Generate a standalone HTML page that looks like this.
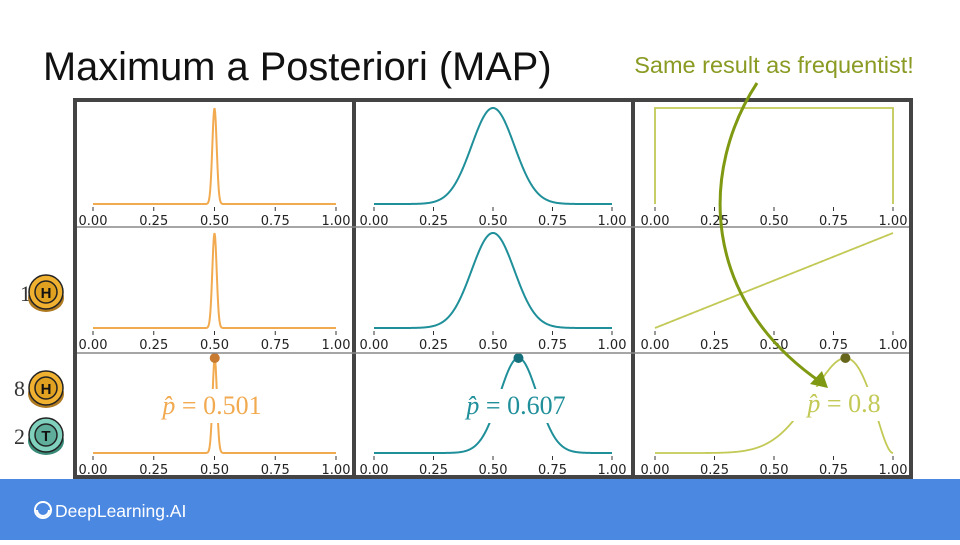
<!DOCTYPE html>
<html><head><meta charset="utf-8"><style>
body{margin:0;width:960px;height:540px;overflow:hidden;background:#fff;font-family:"Liberation Sans",sans-serif}
</style></head><body>
<svg width="960" height="540" viewBox="0 0 960 540" xmlns="http://www.w3.org/2000/svg">
<rect x="0" y="0" width="960" height="540" fill="#fff"/>
<text x="43" y="80" font-size="39.8" fill="#111" font-family="Liberation Sans, sans-serif">Maximum a Posteriori (MAP)</text>
<text x="774" y="73" font-size="23.5" fill="#8a9a22" text-anchor="middle" font-family="Liberation Sans, sans-serif">Same result as frequentist!</text>
<g id="panels"></g>
<rect x="75" y="100" width="836" height="377" fill="none" stroke="#444" stroke-width="4"/>
<line x1="354" y1="100" x2="354" y2="477" stroke="#444" stroke-width="4"/>
<line x1="633" y1="100" x2="633" y2="477" stroke="#444" stroke-width="4"/>
<line x1="77" y1="227" x2="909" y2="227" stroke="#888" stroke-width="1.5"/>
<line x1="77" y1="353" x2="909" y2="353" stroke="#888" stroke-width="1.5"/>
<path d="M757,83 C700,170 700,300 822,383" fill="none" stroke="#7f9a12" stroke-width="3"/>
<polygon points="828,388 810,384 822,371" fill="#7f9a12"/>
<g>
<text x="20" y="301" font-size="22" fill="#333" font-family="Liberation Serif, serif">1</text>
<text x="14" y="396" font-size="22" fill="#333" font-family="Liberation Serif, serif">8</text>
<text x="14" y="444" font-size="22" fill="#333" font-family="Liberation Serif, serif">2</text>
<g><ellipse cx="46" cy="298" rx="18" ry="14" fill="#b07a20"/><circle cx="46" cy="292" r="17" fill="#f0b030" stroke="#222" stroke-width="1.5"/><circle cx="46" cy="292" r="11" fill="#e0a020" stroke="#222" stroke-width="1.5"/><text x="46" y="298" font-size="15" font-weight="bold" text-anchor="middle" fill="#111">H</text></g>
<g><ellipse cx="46" cy="394" rx="18" ry="14" fill="#b07a20"/><circle cx="46" cy="388" r="17" fill="#f0b030" stroke="#222" stroke-width="1.5"/><circle cx="46" cy="388" r="11" fill="#e0a020" stroke="#222" stroke-width="1.5"/><text x="46" y="394" font-size="15" font-weight="bold" text-anchor="middle" fill="#111">H</text></g>
<g><ellipse cx="46" cy="441" rx="18" ry="14" fill="#3a8a78"/><circle cx="46" cy="435" r="17" fill="#7fd0bc" stroke="#222" stroke-width="1.5"/><circle cx="46" cy="435" r="11" fill="#5fae9c" stroke="#222" stroke-width="1.5"/><text x="46" y="441" font-size="15" font-weight="bold" text-anchor="middle" fill="#111">T</text></g>
</g>
<rect x="0" y="479" width="960" height="61" fill="#4b88e2"/>
<g><circle cx="43" cy="510" r="8" fill="none" stroke="#fff" stroke-width="2"/><path d="M37,510 a6,6 0 0 0 12,0" fill="none" stroke="#fff" stroke-width="2"/>
<text x="55" y="517" font-size="17.5" fill="#fff" font-family="Liberation Sans, sans-serif">DeepLearning.AI</text></g>
</svg>
<script>
const tickLabels = ["0.00","0.25","0.50","0.75","1.00"];
const tickValues = [0,0.25,0.5,0.75,1];
const colColors = ["#f2aa50","#1f8f9a","#c2c955"];
const markerColors = ["#c87a30","#16707c","#66661c"];
const mapValues = [0.501, 0.607, 0.8];
const mapLabels = ["0.501","0.607","0.8"];
// gaussian params per column (row1 prior, row2 after 1H, row3 after 8H2T)
const colMeans = [[0.5,0.5,0.501],[0.5,0.5,0.607]];
const colSds = [[0.009,0.009,0.009],[0.09,0.09,0.08]];
// beta exponents for column 3 (a-1, b-1) per row
const betaA = [0,1,8];
const betaB = [0,0,2];

const NS="http://www.w3.org/2000/svg";
const g=document.getElementById('panels');
const colX=[[93,336],[374,612],[655,893]];
const rowBase=[204,328,453];
const rowTop=[108,233,358];
function el(t,a,p){const e=document.createElementNS(NS,t);for(const k in a)e.setAttribute(k,a[k]);(p||g).appendChild(e);return e;}
function density(c,r,x){
  if(c<2){const m=colMeans[c][r],s=colSds[c][r];return Math.exp(-0.5*((x-m)/s)**2);}
  const a=betaA[r],b=betaB[r];const m=(a+b)?a/(a+b):0.5;
  const f=v=>Math.pow(v,a)*Math.pow(1-v,b);return f(x)/f(m);
}
for(let c=0;c<3;c++)for(let r=0;r<3;r++){
  const [x0,x1]=colX[c];const sx=v=>x0+v*(x1-x0);
  const sy=v=>rowBase[r]-v*(rowBase[r]-rowTop[r]);
  const pg=el('g',{});
  
  
  tickValues.forEach((t,i)=>{
    const tk=el('line',{x1:sx(t),x2:sx(t),y1:rowBase[r]+3,y2:rowBase[r]+7,stroke:'#333','stroke-width':1},pg);
    
    
    const tl=el('text',{x:sx(t),y:rowBase[r]+21,'font-size':13,'text-anchor':'middle',fill:'#222','font-family':'DejaVu Sans, sans-serif'},pg);
    tl.textContent=tickLabels[i];
    
    
  });
  let d='';
  if(c==2&&r==0){d=`M${sx(0)},${sy(0)} L${sx(0)},${sy(1)} L${sx(1)},${sy(1)} L${sx(1)},${sy(0)}`;}
  else{for(let i=0;i<=400;i++){const v=i/400;d+=(i?'L':'M')+sx(v).toFixed(2)+','+sy(density(c,r,v)).toFixed(2);}}
  const p=el('path',{d:d,fill:'none',stroke:colColors[c],'stroke-width':c==2?1.8:2},pg);
  
  
  if(r==2){
    const mv=mapValues[c];
    const tx=c==2?844:(c==1?516:212), ty=c==2?412:414;
    const bg=el('rect',{x:tx-52,y:ty-25,width:104,height:34,fill:'#fff'},pg);
    
    
    const t=el('text',{x:tx,y:ty,'font-size':26,'text-anchor':'middle',fill:colColors[c],'font-family':'Liberation Serif, serif'},pg);
    const ts=el('tspan',{'font-style':'italic'},t);
    ts.textContent='p\u0302';
    const ts2=el('tspan',{},t);
    ts2.textContent=' = '+mapLabels[c];
    
    
    const m=el('circle',{cx:sx(mv),cy:sy(density(c,r,mv)),r:5,fill:markerColors[c]},pg);
    
    
  }
}
</script>
</body></html>
